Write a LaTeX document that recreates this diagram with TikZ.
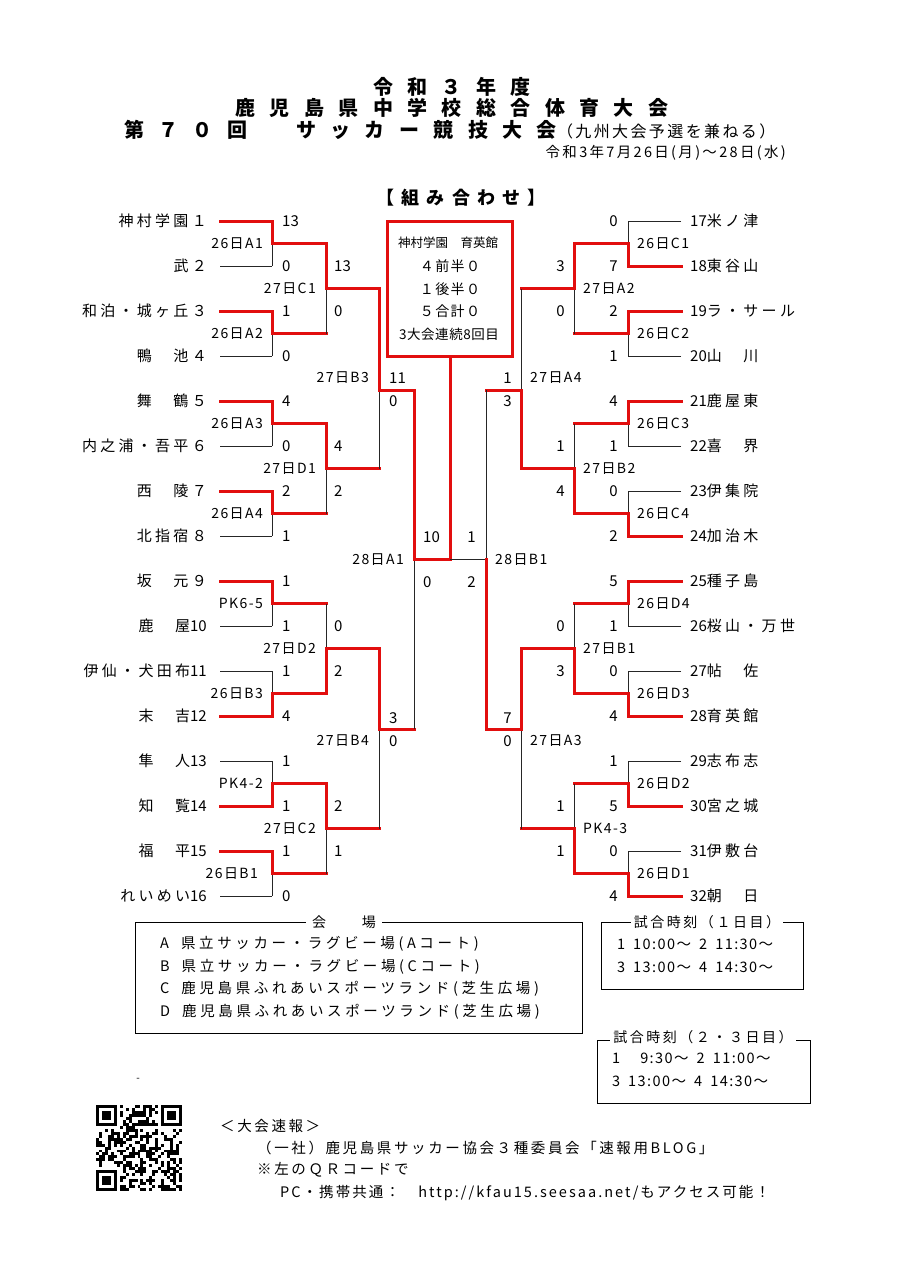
\documentclass[tikz,border=0pt]{standalone}
\usepackage{fontspec}
\setmainfont{Noto Sans CJK JP}
\definecolor{rd}{RGB}{226,14,14}
\newcommand\fsz[1]{\fontsize{#1}{#1}\selectfont}
\newcommand\lsp[1]{\addfontfeature{LetterSpace=#1}}
\newcommand\nd[1]{{\lsp{0}#1}}
\newcommand\gp{\hspace{8pt}}
\begin{document}
\begin{tikzpicture}[x=1pt,y=-1pt,
 won/.style={draw=rd,line width=3pt,line cap=rect},
 lost/.style={draw=black!85,line width=0.9pt},
 tname/.style={inner sep=0pt,font=\fsz{15}\lsp{22}},
 score/.style={inner sep=0pt,font=\fsz{15}},
 mlab/.style={inner sep=0pt,font=\fsz{14}\lsp{10}},
 ctxt/.style={inner sep=0pt,font=\fsz{14}\lsp{10}},
 boxtxt/.style={inner sep=0pt,anchor=west,font=\fsz{14.5}\lsp{25}},
 ttxt/.style={inner sep=0pt,anchor=west,font=\fsz{14.5}\lsp{10}},
 btitle/.style={fill=white,inner xsep=6pt,inner ysep=2pt,font=\fsz{14}\lsp{18}},
 info/.style={inner sep=0pt,anchor=west,font=\fsz{14.5}\lsp{18}}]
\useasboundingbox (0,0) rectangle (900,1272);
\fill[white] (0,0) rectangle (900,1272);

% ---------- titles
\node[font=\fsz{20}\bfseries\lsp{72}] (t1) at (452,87) {令和３年度};
\node[font=\fsz{20}\bfseries\lsp{72}] (t2) at (452,108) {鹿児島県中学校総合体育大会};
\node[anchor=west,inner sep=0pt] (t3) at (124,130) {{\fsz{20}\bfseries\lsp{72}第７０回　サッカー競技大会}{\fsz{16}\lsp{15}（九州大会予選を兼ねる）}};
\node[anchor=east,inner sep=0pt,font=\fsz{14.5}\lsp{16}] (date) at (786,153) {令和3年7月26日(月)～28日(水)};
\node[font=\fsz{18}\bfseries\lsp{40}] (kumi) at (461,198) {【組み合わせ】};

% ---------- centre box
\node[draw=rd,line width=3pt,minimum width=125pt,minimum height=135pt,inner sep=0pt] (box) at (450,288.5) {};
\node[ctxt,font=\fsz{12.5}] (c1) at (448,243) {神村学園　育英館};
\node[ctxt] (c2) at (450,266) {４前半０};
\node[ctxt] (c3) at (450,289) {１後半０};
\node[ctxt] (c4) at (450,311) {５合計０};
\node[ctxt,font=\fsz{13.5}\lsp{4}] (c5) at (449,334) {3大会連続8回目};
\coordinate (fc) at (450,559.5);
\draw[won] (box.south) -- (fc);

% ---------- team lines
\foreach \i/\s in {1/won,2/lost,3/won,4/lost,5/won,6/lost,7/won,8/lost,9/won,10/lost,11/lost,12/won,13/lost,14/won,15/won,16/lost}{
 \pgfmathsetmacro\yy{221+45*(\i-1)}
 \coordinate (la\i) at (220,\yy); \coordinate (lb\i) at (272,\yy);
 \draw[\s] (la\i) -- (lb\i);}
\foreach \i/\s in {1/lost,2/won,3/won,4/lost,5/won,6/lost,7/lost,8/won,9/won,10/lost,11/lost,12/won,13/lost,14/won,15/lost,16/won}{
 \pgfmathsetmacro\yy{221+45*(\i-1)}
 \coordinate (ra\i) at (681,\yy); \coordinate (rb\i) at (628,\yy);
 \draw[\s] (ra\i) -- (rb\i);}

% ---------- matches: x / next x / y top / y bottom / y out / top wins
\foreach \x/\xn/\yt/\yb/\yo/\w in {
 272/326/221/266/243.5/1, 272/326/311/356/333.5/1, 272/326/401/446/423.5/1, 272/326/491/536/513.5/1,
 272/326/581/626/603.5/1, 272/326/671/716/693.5/0, 272/326/761/806/783.5/0, 272/326/851/896/873.5/1,
 326/379/243.5/333.5/288.5/1, 326/379/423.5/513.5/468.5/1, 326/379/603.5/693.5/648.5/0, 326/379/783.5/873.5/828.5/1,
 379/414/288.5/468.5/390/1, 379/414/648.5/828.5/729/1,
 414/450/390/729/559.5/1,
 628/574/221/266/243.5/0, 628/574/311/356/333.5/1, 628/574/401/446/423.5/1, 628/574/491/536/513.5/0,
 628/574/581/626/603.5/1, 628/574/671/716/693.5/0, 628/574/761/806/783.5/0, 628/574/851/896/873.5/0,
 574/521/243.5/333.5/288.5/1, 574/521/423.5/513.5/468.5/0, 574/521/603.5/693.5/648.5/0, 574/521/783.5/873.5/828.5/0,
 521/486/288.5/468.5/390/0, 521/486/648.5/828.5/729/1}{
 \coordinate (mt) at (\x,\yt); \coordinate (mb) at (\x,\yb);
 \coordinate (mo) at (\x,\yo); \coordinate (mn) at (\xn,\yo);
 \ifnum\w=1 \draw[lost] (mo) -- (mb); \draw[won] (mt) -- (mo);
 \else \draw[lost] (mo) -- (mt); \draw[won] (mb) -- (mo); \fi
 \draw[won] (mo) -- (mn);}
% right semi-final
\coordinate (rft) at (486,390); \coordinate (rfb) at (486,729); \coordinate (rfo) at (486,559.5);
\draw[lost] (rft) -- (rfo); \draw[lost] (rfo) -- (fc);
\draw[won] (rfb) -- (rfo);

% ---------- team names
\foreach \i/\t in {1/神村学園１,2/武２,3/和泊・城ヶ丘３,4/鴨　池４,5/舞　鶴５,6/内之浦・吾平６,7/西　陵７,8/北指宿８,9/坂　元９,10/鹿　屋\nd{10},11/伊仙・犬田布\nd{11},12/末　吉\nd{12},13/隼　人\nd{13},14/知　覧\nd{14},15/福　平\nd{15},16/れいめい\nd{16}}{
 \pgfmathsetmacro\yy{221+45*(\i-1)}
 \node[tname,anchor=east] (ln\i) at (207,\yy) {\t};}
\foreach \i/\t in {1/\nd{17}米ノ津,2/\nd{18}東谷山,3/\nd{19}ラ・サール,4/\nd{20}山　川,5/\nd{21}鹿屋東,6/\nd{22}喜　界,7/\nd{23}伊集院,8/\nd{24}加治木,9/\nd{25}種子島,10/\nd{26}桜山・万世,11/\nd{27}帖　佐,12/\nd{28}育英館,13/\nd{29}志布志,14/\nd{30}宮之城,15/\nd{31}伊敷台,16/\nd{32}朝　日}{
 \pgfmathsetmacro\yy{221+45*(\i-1)}
 \node[tname,anchor=west] (rn\i) at (690,\yy) {\t};}

% ---------- scores
\foreach \s [count=\i] in {13,0,1,0,4,0,2,1,1,1,1,4,1,1,1,0}{
 \pgfmathsetmacro\yy{221+45*(\i-1)}
 \node[score,anchor=west] (ls\i) at (282,\yy) {\s};}
\foreach \s [count=\i] in {0,7,2,1,4,1,0,2,5,1,0,4,1,5,0,4}{
 \pgfmathsetmacro\yy{221+45*(\i-1)}
 \node[score,anchor=east] (rs\i) at (618,\yy) {\s};}
\foreach \y/\s [count=\i] in {266/13,311/0,446/4,491/2,626/0,671/2,806/2,851/1}
 \node[score,anchor=west] (lt\i) at (334,\y) {\s};
\foreach \y/\s [count=\i] in {266/3,311/0,446/1,491/4,626/0,671/3,806/1,851/1}
 \node[score,anchor=east] (rt\i) at (565,\y) {\s};
\foreach \y/\s [count=\i] in {378/11,401/0,718/3,741/0}
 \node[score,anchor=west] (lu\i) at (389,\y) {\s};
\foreach \y/\s [count=\i] in {378/1,401/3,718/7,741/0}
 \node[score,anchor=east] (ru\i) at (512,\y) {\s};
\node[score,anchor=west] (lf1) at (423,537) {10};
\node[score,anchor=west] (lf2) at (423,582) {0};
\node[score,anchor=east] (rf1) at (476,537) {1};
\node[score,anchor=east] (rf2) at (476,582) {2};

% ---------- match labels
\foreach \y/\t [count=\i] in {243.5/26日A1,333.5/26日A2,423.5/26日A3,513.5/26日A4,603.5/PK6-5,693.5/26日B3,783.5/PK4-2}
 \node[mlab,anchor=east] (la1\i) at (263,\y) {\t};
\node[mlab,anchor=east] (la18) at (258,873.5) {26日B1};
\foreach \y/\t [count=\i] in {288.5/27日C1,468.5/27日D1,648.5/27日D2,828.5/27日C2}
 \node[mlab,anchor=east] (la2\i) at (316,\y) {\t};
\node[mlab,anchor=east] (la31) at (369,378) {27日B3};
\node[mlab,anchor=east] (la32) at (369,741) {27日B4};
\node[mlab,anchor=east] (la41) at (404,560) {28日A1};
\foreach \y/\t [count=\i] in {243.5/26日C1,333.5/26日C2,423.5/26日C3,513.5/26日C4,603.5/26日D4,693.5/26日D3,783.5/26日D2,873.5/26日D1}
 \node[mlab,anchor=west] (ra1\i) at (637,\y) {\t};
\foreach \y/\t [count=\i] in {288.5/27日A2,468.5/27日B2,648.5/27日B1,828.5/PK4-3}
 \node[mlab,anchor=west] (ra2\i) at (583,\y) {\t};
\node[mlab,anchor=west] (ra31) at (530,378) {27日A4};
\node[mlab,anchor=west] (ra32) at (530,741) {27日A3};
\node[mlab,anchor=west] (ra41) at (495,560) {28日B1};

% ---------- venue box
\node[draw,line width=0.9pt,minimum width=447pt,minimum height=111pt,inner sep=0pt] (venue) at (358.5,977.5) {};
\node[btitle] (vt) at (344,922) {会　　場};
\foreach \y/\t [count=\i] in {944/A\hspace{12pt}県立サッカー・ラグビー場(Aコート),967/B\hspace{12pt}県立サッカー・ラグビー場(Cコート),989/C\hspace{12pt}鹿児島県ふれあいスポーツランド(芝生広場),1012/D\hspace{12pt}鹿児島県ふれあいスポーツランド(芝生広場)}
 \node[boxtxt] (v\i) at (160,\y) {\t};

% ---------- time boxes
\node[draw,line width=0.9pt,minimum width=202pt,minimum height=67pt,inner sep=0pt] (tb1) at (702,955.5) {};
\node[btitle,inner xsep=3pt] (tt1) at (707,922) {試合時刻（１日目）};
\node[ttxt] (a1) at (617,944) {1\gp 10:00～\gp 2\gp 11:30～};
\node[ttxt] (a2) at (617,967) {3\gp 13:00～\gp 4\gp 14:30～};
\node[draw,line width=0.9pt,minimum width=213pt,minimum height=63pt,inner sep=0pt] (tb2) at (703.5,1071.5) {};
\node[btitle,inner xsep=3pt] (tt2) at (703,1037) {試合時刻（２・３日目）};
\node[ttxt] (b1) at (612,1058) {1\hspace{20pt}9:30～\gp 2\gp 11:00～};
\node[ttxt] (b2) at (612,1081) {3\gp 13:00～\gp 4\gp 14:30～};
\node[inner sep=0pt,font=\fsz{10}] (dash) at (138,1080) {-};

% ---------- QR code
\begin{scope}[shift={(96,1105)}]
 \def\qs{2.966}
 \pgfmathsetseed{4711}
 \foreach \r in {0,...,28}{\foreach \c in {0,...,28}{
  \pgfmathtruncatemacro\bit{rnd<0.5}
  \pgfmathtruncatemacro\inf{or(and(\r<8,\c<8),or(and(\r<8,\c>20),and(\r>20,\c<8)))}
  \ifnum\inf=0 \ifnum\bit=1 \fill (\c*\qs,\r*\qs) rectangle ++(\qs,\qs); \fi\fi}}
 \foreach \cx/\cy in {0/0,22/0,0/22}{
  \fill (\cx*\qs,\cy*\qs) rectangle ++(7*\qs,7*\qs);
  \fill[white] (\cx*\qs+\qs,\cy*\qs+\qs) rectangle ++(5*\qs,5*\qs);
  \fill (\cx*\qs+2*\qs,\cy*\qs+2*\qs) rectangle ++(3*\qs,3*\qs);}
\end{scope}

% ---------- info text
\node[info] (i1) at (220,1126) {＜大会速報＞};
\node[info] (i2) at (257,1148) {（一社）鹿児島県サッカー協会３種委員会「速報用BLOG」};
\node[info] (i3) at (257,1170) {※左のＱＲコードで};
\node[info,font=\fsz{14.5}\lsp{14}] (i4) at (280,1193) {PC・携帯共通：　http://kfau15.seesaa.net/もアクセス可能！};
\end{tikzpicture}
\end{document}
